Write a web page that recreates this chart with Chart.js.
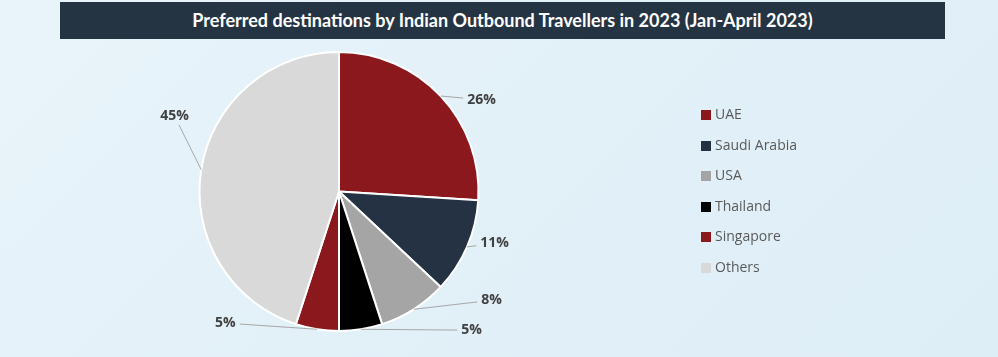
<!DOCTYPE html>
<html>
<head>
<meta charset="utf-8">
<script src="https://cdn.jsdelivr.net/npm/chart.js@4"></script>
<style>
  html, body { margin:0; padding:0; }
  body { width:998px; height:357px; overflow:hidden; position:relative;
         background: linear-gradient(135deg, #e9f4fa 0%, #e2f0f8 50%, #deeef7 100%);
         font-family: "Open Sans", sans-serif; }
  #title { position:absolute; left:60px; top:2px; width:885px; height:37px;
           background:#253443; color:#fff; font-family: Lato, sans-serif; font-weight:700;
           font-size:18px; line-height:37px; text-align:center; }
  #wrap { position:absolute; left:0; top:0; width:998px; height:357px; }
  #legend { position:absolute; left:701px; top:99px; margin:0; padding:0; list-style:none; }
  #legend li { height:30.6px; line-height:30px; font-size:14px; color:#595959; white-space:nowrap; }
  #legend span.box { display:inline-block; width:10px; height:10px; margin-right:4px; vertical-align:-1px; }
</style>
</head>
<body>
<div id="wrap"><canvas id="c" width="998" height="357"></canvas></div>
<div id="title">Preferred destinations by Indian Outbound Travellers in 2023 (Jan-April 2023)</div>
<ul id="legend"></ul>
<script>
const categories = ["UAE", "Saudi Arabia", "USA", "Thailand", "Singapore", "Others"];
const shares = [26, 11, 8, 5, 5, 45];
const valueLabels = ["26%", "11%", "8%", "5%", "5%", "45%"];
const sliceColors = ["#8b181d", "#243243", "#a5a5a5", "#000000", "#8b181d", "#d9d9d9"];
// label placement (style): angle clockwise from top in degrees, distance as multiple of radius
const labelAngles = [57.2, 108.4, 125.5, 136.3, 220.8, 294.7];
const labelDist = [1.215, 1.175, 1.343, 1.375, 1.246, 1.298];

const legend = document.getElementById('legend');
categories.forEach((c, i) => {
  const li = document.createElement('li');
  li.innerHTML = '<span class="box" style="background:' + sliceColors[i] + '"></span>' + c;
  legend.appendChild(li);
});

const labelPlugin = {
  id: 'outLabels',
  afterDatasetsDraw(chart) {
    const ctx = chart.ctx;
    const meta = chart.getDatasetMeta(0);
    ctx.save();
    ctx.font = 'bold 14px "Open Sans", sans-serif';
    ctx.textAlign = 'center';
    ctx.textBaseline = 'middle';
    meta.data.forEach((arc, i) => {
      const p = arc.getProps(['x', 'y', 'startAngle', 'endAngle', 'outerRadius'], true);
      const mid = (p.startAngle + p.endAngle) / 2;
      const ex = p.x + Math.cos(mid) * p.outerRadius;
      const ey = p.y + Math.sin(mid) * p.outerRadius;
      const a = (labelAngles[i] - 90) * Math.PI / 180;
      const lx = p.x + Math.cos(a) * p.outerRadius * labelDist[i];
      const ly = p.y + Math.sin(a) * p.outerRadius * labelDist[i];
      const w = ctx.measureText(valueLabels[i]).width;
      const hw = w / 2 + 4, hh = 9;
      let dx = ex - lx, dy = ey - ly;
      const s = Math.min(Math.abs(dx) > 0 ? hw / Math.abs(dx) : Infinity, Math.abs(dy) > 0 ? hh / Math.abs(dy) : Infinity);
      const tx = lx + dx * s, ty = ly + dy * s;
      ctx.strokeStyle = '#a6a6a6';
      ctx.lineWidth = 1;
      ctx.beginPath();
      ctx.moveTo(ex, ey);
      ctx.lineTo(tx, ty);
      ctx.stroke();
      ctx.fillStyle = '#404040';
      ctx.fillText(valueLabels[i], lx, ly);
    });
    ctx.restore();
  }
};

new Chart(document.getElementById('c'), {
  type: 'pie',
  data: {
    labels: categories,
    datasets: [{
      data: shares,
      backgroundColor: sliceColors,
      borderColor: '#ffffff',
      borderWidth: 2
    }]
  },
  options: {
    responsive: false,
    animation: false,
    layout: { padding: { top: 51, bottom: 25, left: 0, right: 320 } },
    plugins: { legend: { display: false }, tooltip: { enabled: false } }
  },
  plugins: [labelPlugin]
});
</script>
</body>
</html>
